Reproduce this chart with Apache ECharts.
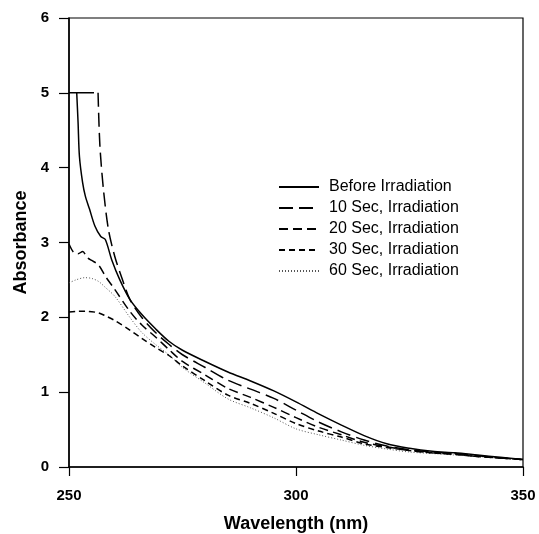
<!DOCTYPE html>
<html>
<head>
<meta charset="utf-8">
<script src="https://cdn.jsdelivr.net/npm/echarts@6/dist/echarts.min.js"></script>
<style>html,body{margin:0;padding:0;background:#fff;overflow:hidden}#c{position:absolute;left:0;top:0;width:539px;height:534px}</style>
</head>
<body>
<div id="c"></div>
<script>
var seriesNames = ['Before Irradiation','10 Sec, Irradiation','20 Sec, Irradiation','30 Sec, Irradiation','60 Sec, Irradiation'];
var xTicks = [250, 300, 350];
var yTicks = [0, 1, 2, 3, 4, 5, 6];

var before = [[250,5],[255.5,5],[251.7,5],[252.0,4.6],[252.3,4.15],[253,3.8],[253.6,3.62],[254.5,3.45],[255.7,3.22],[257,3.08],[258,3.04],[259.4,2.77],[261.2,2.5],[263.4,2.24],[266,2.04],[269,1.85],[272,1.68],[275,1.56],[280,1.41],[285,1.27],[290,1.15],[295,1.02],[300,0.87],[305,0.71],[310,0.56],[315,0.42],[320,0.31],[325,0.25],[330,0.21],[335,0.19],[340,0.16],[345,0.13],[350,0.1]];
var sec10 = [[256.4,5],[256.8,4.3],[257.6,3.7],[258.7,3.17],[260.1,2.81],[261.8,2.5],[263.4,2.24],[266,2.0],[269,1.8],[272,1.64],[275,1.5],[280,1.33],[285,1.16],[290,1.04],[295,0.92],[300,0.76],[305,0.6],[310,0.47],[315,0.36],[320,0.28],[325,0.23],[330,0.2],[335,0.18],[340,0.15],[345,0.12],[350,0.1]];
var sec20 = [[250,2.98],[251,2.87],[252,2.85],[253,2.88],[254,2.8],[255,2.76],[256.5,2.7],[258,2.55],[260,2.38],[263.4,2.08],[266,1.9],[269,1.74],[272,1.57],[275,1.41],[280,1.23],[285,1.05],[290,0.93],[295,0.8],[300,0.66],[305,0.53],[310,0.43],[315,0.33],[320,0.27],[325,0.22],[330,0.19],[335,0.17],[340,0.14],[345,0.12],[350,0.1]];
var sec30 = [[250,2.07],[252,2.08],[254,2.08],[256.5,2.06],[258,2.02],[260,1.96],[263.4,1.83],[266,1.72],[269,1.6],[272,1.49],[275,1.35],[280,1.15],[285,0.96],[290,0.85],[295,0.72],[300,0.58],[305,0.48],[310,0.4],[315,0.31],[320,0.26],[325,0.22],[330,0.19],[335,0.17],[340,0.14],[345,0.12],[350,0.1]];
var sec60 = [[250,2.46],[251.5,2.5],[253.5,2.53],[255,2.52],[256.5,2.48],[258,2.4],[260.1,2.28],[263.4,2.0],[266,1.8],[269,1.64],[272,1.5],[275,1.33],[280,1.12],[285,0.91],[290,0.79],[295,0.66],[300,0.51],[305,0.43],[310,0.36],[315,0.29],[320,0.24],[325,0.2],[330,0.18],[335,0.16],[340,0.14],[345,0.12],[350,0.1]];

var dataSets = [before, sec10, sec20, sec30, sec60];
var styles = [
  {type:'solid', width:1.5, color:'#000'},
  {type:[14,6], width:1.5, color:'#000'},
  {type:[9,5], width:1.5, color:'#000'},
  {type:[6,4], width:1.5, color:'#000'},
  {type:[1,2], width:1, color:'#555'}
];

var FONT = '"Liberation Sans", Arial, sans-serif';
var chart = echarts.init(document.getElementById('c'), null, {renderer:'canvas', width:539, height:534});
chart.setOption({
  animation: false,
  backgroundColor: '#fff',
  grid: {left:69, top:18, right:16, bottom:67, show:true, borderColor:'#000', borderWidth:1.2,
         containLabel:false, outerBoundsMode:'none'},
  legend: {
    orient:'vertical', left:273, top:174, itemWidth:40, itemHeight:14, itemGap:5,
    itemStyle:{opacity:0},
    textStyle:{fontFamily:FONT, fontSize:16, color:'#000', padding:[0,0,0,5]},
    data: seriesNames
  },
  xAxis: {
    type:'value', min:250, max:350, interval:50,
    name:'Wavelength (nm)', nameLocation:'middle', nameGap:48,
    nameTextStyle:{fontFamily:FONT, fontSize:18, fontWeight:'bold', color:'#000'},
    axisLine:{lineStyle:{color:'#000', width:1.5}},
    axisTick:{show:true, inside:false, length:9, lineStyle:{color:'#000', width:1.2}},
    axisLabel:{fontFamily:FONT, fontSize:15, fontWeight:'bold', color:'#000', margin:21,
      formatter:function(v){return xTicks.indexOf(v)>=0 ? String(v) : '';}},
    splitLine:{show:false}
  },
  yAxis: {
    type:'value', min:0, max:6, interval:1,
    name:'Absorbance', nameLocation:'middle', nameGap:38, nameRotate:90,
    nameTextStyle:{fontFamily:FONT, fontSize:18, fontWeight:'bold', color:'#000'},
    axisLine:{show:true, lineStyle:{color:'#000', width:1.5}},
    axisTick:{show:true, inside:false, length:10, lineStyle:{color:'#000', width:1.2}},
    axisLabel:{fontFamily:FONT, fontSize:15, fontWeight:'bold', color:'#000', margin:20,
      formatter:function(v){return yTicks.indexOf(v)>=0 ? String(v) : '';}},
    splitLine:{show:false}
  },
  series: seriesNames.map(function(n,i){
    return {
      name:n, type:'line', data:dataSets[i], showSymbol:false, symbol:'none',
      smooth:0.3, lineStyle:styles[i], itemStyle:{color:styles[i].color},
      emphasis:{disabled:true}, z: 5 - i
    };
  })
});
</script>
</body>
</html>
